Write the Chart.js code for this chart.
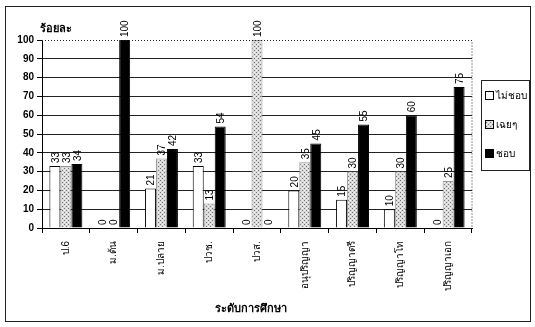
<!DOCTYPE html>
<html>
<head>
<meta charset="utf-8">
<script src="https://cdn.jsdelivr.net/npm/chart.js@4/dist/chart.umd.min.js"></script>
<style>
  html, body { margin: 0; padding: 0; background: #fff; }
  #wrap { width: 535px; height: 327px; }
</style>
</head>
<body>
<div id="wrap"><canvas id="chart" width="535" height="327"></canvas></div>
<script>
// ข้อมูล
const levels = ['ป.6', 'ม.ต้น', 'ม.ปลาย', 'ปวช.', 'ปวส.', 'อนุปริญญา', 'ปริญญาตรี', 'ปริญญาโท', 'ปริญญาเอก'];
const dislike = [33, 0, 21, 33, 0, 20, 15, 10, 0];
const neutral = [33, 0, 37, 13, 100, 35, 30, 30, 25];
const like = [34, 100, 42, 54, 0, 45, 55, 60, 75];
const yTicks = [0, 10, 20, 30, 40, 50, 60, 70, 80, 90, 100];

const fontFamily = "'Liberation Sans', Arial, 'Noto Sans', sans-serif";

// dotted gray fill for "เฉยๆ"
function makePattern() {
  const c = document.createElement('canvas');
  c.width = 4; c.height = 4;
  const g = c.getContext('2d');
  g.fillStyle = '#d9d9d9';
  g.fillRect(0, 0, 4, 4);
  g.fillStyle = '#777';
  g.fillRect(0, 0, 1, 1);
  g.fillRect(2, 2, 1, 1);
  g.fillStyle = '#f2f2f2';
  g.fillRect(2, 0, 1, 1);
  g.fillRect(0, 2, 1, 1);
  return g.createPattern(c, 'repeat');
}
const dots = makePattern();

// frame, titles, dotted top/right border, legend
const decor = {
  id: 'decor',
  beforeDraw(chart) {
    const ctx = chart.ctx;
    ctx.save();
    ctx.fillStyle = '#fff';
    ctx.fillRect(0, 0, chart.width, chart.height);
    ctx.restore();
  },
  afterDraw(chart) {
    const ctx = chart.ctx;
    const a = chart.chartArea;
    ctx.save();
    // outer frame
    ctx.strokeStyle = '#222';
    ctx.lineWidth = 1;
    ctx.strokeRect(5.5, 6.5, 525, 315);

    // dotted top and right border of plot
    ctx.setLineDash([1, 2]);
    ctx.beginPath();
    ctx.moveTo(a.left, Math.round(a.top) + 0.5);
    ctx.lineTo(a.right, Math.round(a.top) + 0.5);
    ctx.lineTo(a.right, a.bottom);
    ctx.stroke();
    ctx.setLineDash([]);

    // axis titles
    ctx.fillStyle = '#000';
    ctx.font = 'bold 11px ' + fontFamily;
    ctx.textAlign = 'left';
    ctx.textBaseline = 'alphabetic';
    ctx.fillText('ร้อยละ', 40, 32);
    ctx.textAlign = 'center';
    ctx.fillText('ระดับการศึกษา', 251, 312);

    // legend
    ctx.strokeStyle = '#222';
    ctx.strokeRect(481.5, 80.5, 48, 90);
    ctx.font = '10px ' + fontFamily;
    ctx.textAlign = 'left';
    ctx.textBaseline = 'middle';
    const ys = [96, 125, 154];
    chart.data.datasets.forEach((ds, i) => {
      ctx.fillStyle = ds.backgroundColor;
      ctx.fillRect(485, ys[i] - 5, 9, 9);
      ctx.strokeStyle = '#000';
      ctx.strokeRect(485.5, ys[i] - 4.5, 8, 8);
      ctx.fillStyle = '#000';
      ctx.fillText(ds.label, 496, ys[i]);
    });
    ctx.restore();
  }
};

// rotated value labels above bars
const valueLabels = {
  id: 'valueLabels',
  afterDatasetsDraw(chart) {
    const ctx = chart.ctx;
    ctx.save();
    ctx.fillStyle = '#000';
    ctx.font = '10px ' + fontFamily;
    ctx.textAlign = 'left';
    ctx.textBaseline = 'middle';
    chart.data.datasets.forEach((ds, i) => {
      const meta = chart.getDatasetMeta(i);
      meta.data.forEach((bar, j) => {
        ctx.save();
        ctx.translate(bar.x + 1, bar.y - 3);
        ctx.rotate(-Math.PI / 2);
        ctx.fillText(String(ds.data[j]), 0, 0);
        ctx.restore();
      });
    });
    ctx.restore();
  }
};

new Chart(document.getElementById('chart'), {
  type: 'bar',
  data: {
    labels: levels,
    datasets: [
      { label: 'ไม่ชอบ', data: dislike, backgroundColor: '#ffffff', borderColor: '#000', borderWidth: 1 },
      { label: 'เฉยๆ', data: neutral, backgroundColor: dots, borderColor: '#999', borderWidth: 1 },
      { label: 'ชอบ', data: like, backgroundColor: '#000000', borderColor: '#000', borderWidth: 1 }
    ]
  },
  options: {
    responsive: false,
    animation: false,
    events: [],
    layout: { padding: { left: 4, top: 40, right: 63, bottom: 0 } },
    datasets: {
      bar: { categoryPercentage: 0.69, barPercentage: 1.0 }
    },
    plugins: {
      legend: { display: false },
      tooltip: { enabled: false }
    },
    scales: {
      x: {
        afterFit: s => { s.height = 99; },
        grid: { display: true, drawOnChartArea: false, drawTicks: true, tickLength: 5, color: '#000' },
        border: { display: true, color: '#000', width: 1 },
        ticks: {
          color: '#000',
          font: { family: fontFamily, size: 10 },
          minRotation: 90,
          maxRotation: 90,
          autoSkip: false,
          padding: 8
        }
      },
      y: {
        min: 0,
        max: 100,
        afterFit: s => { s.width = 38; },
        afterBuildTicks: s => { s.ticks = yTicks.map(v => ({ value: v })); },
        grid: {
          color: c => (c.tick && c.tick.value === 100) ? 'rgba(0,0,0,0)' : '#222',
          tickColor: '#000',
          tickLength: 5,
          lineWidth: 1
        },
        border: { display: true, color: '#000', width: 1 },
        ticks: {
          color: '#000',
          font: { family: fontFamily, size: 10, weight: 'bold' },
          padding: 3
        }
      }
    }
  },
  plugins: [decor, valueLabels]
});
</script>
</body>
</html>
